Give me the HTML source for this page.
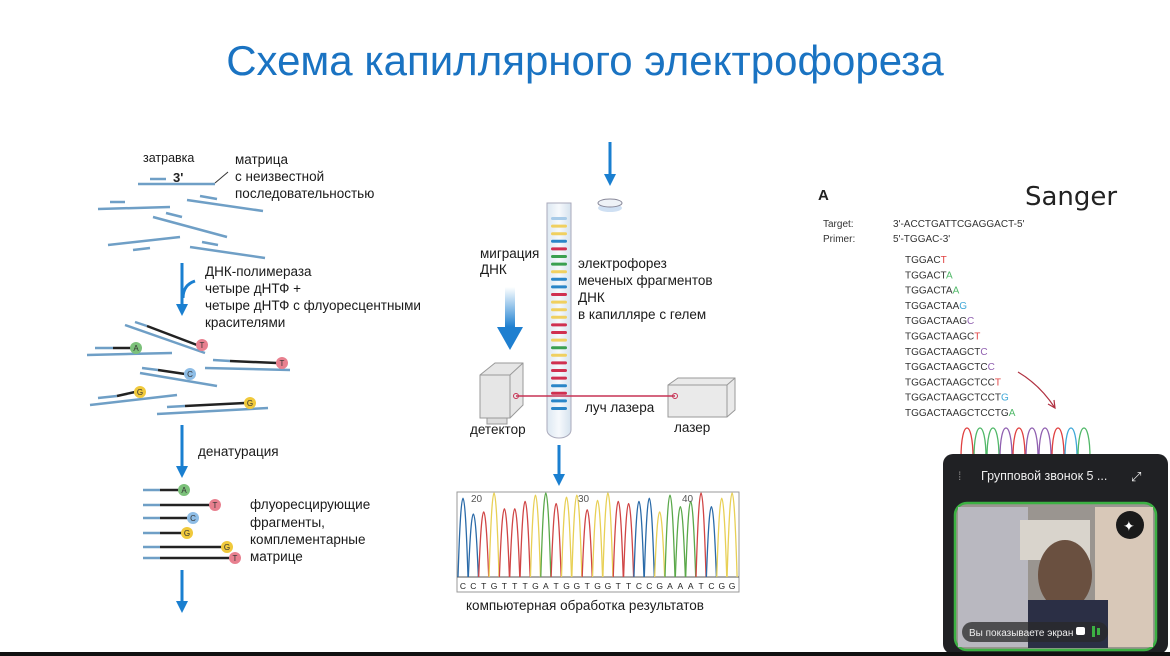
<!DOCTYPE html>
<html><head><meta charset="utf-8"><style>
html,body{margin:0;padding:0;background:#fff;}
svg{display:block;font-family:"Liberation Sans",sans-serif;}
.t{font-size:13.5px;fill:#1a1a1a;}
</style></head><body>
<svg id="s" width="1170" height="656" viewBox="0 0 1170 656" xmlns="http://www.w3.org/2000/svg">
<defs>
<linearGradient id="ga" x1="0" y1="0" x2="0" y2="1"><stop offset="0" stop-color="#2a8ad8" stop-opacity="0"/><stop offset="1" stop-color="#1e7fd0"/></linearGradient>
<linearGradient id="cap" x1="0" y1="0" x2="1" y2="0"><stop offset="0" stop-color="#dde8f2"/><stop offset="0.5" stop-color="#f6f9fc"/><stop offset="1" stop-color="#d5e2ee"/></linearGradient>
<marker id="ah" viewBox="0 0 10 10" refX="5" refY="5" markerWidth="4" markerHeight="4" orient="auto"><path d="M0,0 L10,5 L0,10 z" fill="#1a7fd0"/></marker>
</defs>
<text x="585" y="75" text-anchor="middle" font-size="42" fill="#1a73c2">Схема капиллярного электрофореза</text>

<g stroke="#6f9fc6" stroke-width="2.5" fill="none">
<line x1="150" y1="179" x2="166" y2="179"/><line x1="138" y1="184" x2="215" y2="184"/>
<line x1="110" y1="202" x2="125" y2="202"/><line x1="98" y1="209" x2="170" y2="207"/>
<line x1="187" y1="200" x2="263" y2="211"/><line x1="200" y1="196" x2="217" y2="199"/>
<line x1="153" y1="217" x2="227" y2="237"/><line x1="166" y1="213" x2="182" y2="217"/>
<line x1="108" y1="245" x2="180" y2="237"/><line x1="133" y1="250" x2="150" y2="248"/>
<line x1="190" y1="247" x2="265" y2="258"/><line x1="202" y1="242" x2="218" y2="245"/>
</g>
<line x1="215" y1="183" x2="228" y2="172" stroke="#333" stroke-width="1"/>
<text x="143" y="162" font-size="12.5" fill="#1a1a1a">затравка</text>
<text x="173" y="182" font-size="13" font-weight="bold" fill="#222">3'</text>
<text class="t" x="235" y="164">матрица</text>
<text class="t" x="235" y="181">с неизвестной</text>
<text class="t" x="235" y="198">последовательностью</text>

<g stroke="#1a7fd0" stroke-width="3" fill="none">
<line x1="182" y1="263" x2="182" y2="310" marker-end="url(#ah)"/>
<path d="M195,281 Q183,285 183,298"/>
<line x1="182" y1="425" x2="182" y2="472" marker-end="url(#ah)"/>
<line x1="182" y1="570" x2="182" y2="607" marker-end="url(#ah)"/>
<line x1="610" y1="142" x2="610" y2="180" marker-end="url(#ah)"/>
<line x1="559" y1="445" x2="559" y2="480" marker-end="url(#ah)"/>
</g>
<text class="t" x="205" y="276">ДНК-полимераза</text>
<text class="t" x="205" y="293">четыре дНТФ +</text>
<text class="t" x="205" y="310">четыре дНТФ с флуоресцентными</text>
<text class="t" x="205" y="327">красителями</text>
<text class="t" x="198" y="456">денатурация</text>
<text class="t" x="250" y="509">флуоресцирующие</text>
<text class="t" x="250" y="527">фрагменты,</text>
<text class="t" x="250" y="544">комплементарные</text>
<text class="t" x="250" y="561">матрице</text>

<g id="frags" stroke-width="2.5" fill="none"></g>

<ellipse cx="610" cy="208" rx="12" ry="4" fill="#cfe0f3"/>
<ellipse cx="610" cy="203" rx="12" ry="4" fill="#eef2f7" stroke="#889" stroke-width="1"/>
<path d="M547,203 H571 V430 A12,8 0 0 1 547,430 Z" fill="url(#cap)" stroke="#aab" stroke-width="1"/>
<g id="bands"></g>
<text class="t" x="480" y="258">миграция</text>
<text class="t" x="480" y="274">ДНК</text>
<rect x="505" y="287" width="10" height="40" fill="url(#ga)"/>
<path d="M497,327 L523,327 L510,350 Z" fill="#1e7fd0"/>
<text class="t" x="578" y="268">электрофорез</text>
<text class="t" x="578" y="285">меченых фрагментов</text>
<text class="t" x="578" y="302">ДНК</text>
<text class="t" x="578" y="319">в капилляре с гелем</text>
<path d="M480,375 L495,363 L523,363 L523,405 L510,418 L480,418 Z" fill="#e6e6e6" stroke="#999"/>
<path d="M480,375 L510,375 L523,363 M510,375 V418" fill="none" stroke="#999"/>
<rect x="487" y="418" width="20" height="6" fill="#ddd" stroke="#999"/>
<path d="M668,385 L678,378 L735,378 L735,410 L727,417 L668,417 Z" fill="#eaeaea" stroke="#999"/>
<path d="M668,385 L727,385 L735,378 M727,385 V417" fill="none" stroke="#999"/>
<line x1="516" y1="396" x2="675" y2="396" stroke="#c73355" stroke-width="1.5"/>
<circle cx="516" cy="396" r="2.5" fill="none" stroke="#c73355"/><circle cx="675" cy="396" r="2.5" fill="none" stroke="#c73355"/>
<text class="t" x="585" y="412">луч лазера</text>
<text class="t" x="470" y="434">детектор</text>
<text class="t" x="674" y="432">лазер</text>
<rect x="457" y="492" width="282" height="100" fill="#fff" stroke="#999"/>
<line x1="457" y1="577" x2="739" y2="577" stroke="#555"/>
<g id="chrom" fill="none" stroke-width="1.3"></g>
<text x="471" y="502" font-size="10" fill="#555">20</text><text x="578" y="502" font-size="10" fill="#555">30</text><text x="682" y="502" font-size="10" fill="#555">40</text>
<text class="t" x="466" y="610">компьютерная обработка результатов</text>

<text x="818" y="200" font-size="15" font-weight="bold" fill="#222">A</text>
<text x="1025" y="205" font-size="26" fill="#222" font-family="DejaVu Sans,sans-serif">Sanger</text>
<g font-size="10" fill="#333"><text x="823" y="227">Target:</text><text x="823" y="242">Primer:</text>
<text x="893" y="227">3'-ACCTGATTCGAGGACT-5'</text><text x="893" y="242">5'-TGGAC-3'</text></g>
<g id="seq" font-size="10" fill="#333"></g>
<path d="M1018,372 Q1040,385 1055,408" stroke="#b03040" fill="none" stroke-width="1.2"/>
<path d="M1048,404 L1055,408 L1054,400" stroke="#b03040" fill="none" stroke-width="1.2"/>
<g id="arch" fill="none" stroke-width="1.3"></g>

<rect x="943" y="454" width="225" height="200" rx="10" fill="#202124"/>
<text x="958" y="480" font-size="12" fill="#888">⁞</text>
<text x="981" y="480" font-size="12.5" fill="#eee">Групповой звонок 5 ...</text>
<text x="1131" y="481" font-size="13" fill="#eee">⤢</text>
<rect x="955" y="503" width="201" height="147" rx="12" fill="#9a9590" stroke="#3cb043" stroke-width="2.5"/>
<rect x="958" y="507" width="70" height="140" fill="#b9b8c0"/>
<rect x="1095" y="507" width="58" height="140" fill="#d8c8b8"/>
<rect x="1020" y="520" width="70" height="40" fill="#d9d4cc"/>
<ellipse cx="1065" cy="575" rx="27" ry="35" fill="#6a5040"/>
<rect x="1028" y="600" width="80" height="48" fill="#2b2f45"/>
<circle cx="1130" cy="525" r="14" fill="#1a1a1a"/><text x="1123" y="531" font-size="14" fill="#fff">✦</text>
<rect x="962" y="622" width="146" height="20" rx="10" fill="#2a2a2a" opacity="0.75"/>
<text x="969" y="636" font-size="10" fill="#eee">Вы показываете экран</text>
<rect x="1076" y="627" width="9" height="8" rx="2" fill="#fff"/><rect x="1092" y="626" width="3" height="11" fill="#3cb043"/><rect x="1097" y="628" width="3" height="7" fill="#3cb043"/>
<rect x="0" y="652" width="1170" height="4" fill="#111"/>
<script>
var NS="http://www.w3.org/2000/svg";
function el(p,t,a,tx){var e=document.createElementNS(NS,t);for(var k in a)e.setAttribute(k,a[k]);if(tx)e.textContent=tx;document.getElementById(p).appendChild(e);return e;}
var col={A:"#7cc17a",T:"#e8808f",C:"#8ebde6",G:"#f0c93c"};
var F=[[87,355,172,353,95,348,113,348,136,348,"A"],[125,325,205,353,135,322,147,326,202,345,"T"],[205,368,290,370,213,360,230,361,282,363,"T"],[140,373,217,386,142,368,158,370,190,374,"C"],[90,405,177,395,98,398,117,396,140,392,"G"],[157,414,268,408,167,407,185,406,250,403,"G"]];
F.forEach(function(f){el("frags","line",{x1:f[0],y1:f[1],x2:f[2],y2:f[3],stroke:"#6f9fc6"});el("frags","line",{x1:f[4],y1:f[5],x2:f[6],y2:f[7],stroke:"#6f9fc6"});el("frags","line",{x1:f[6],y1:f[7],x2:f[8]-5,y2:f[9],stroke:"#222"});el("frags","circle",{cx:f[8],cy:f[9],r:6,fill:col[f[10]],stroke:"none"});el("frags","text",{x:f[8],y:f[9]+3,"font-size":8,"text-anchor":"middle",fill:"#333",stroke:"none"},f[10]);});
var L=[[490,184,"A"],[505,215,"T"],[518,193,"C"],[533,187,"G"],[547,227,"G"],[558,235,"T"]];
L.forEach(function(f){el("frags","line",{x1:143,y1:f[0],x2:160,y2:f[0],stroke:"#6f9fc6"});el("frags","line",{x1:160,y1:f[0],x2:f[1]-5,y2:f[0],stroke:"#222"});el("frags","circle",{cx:f[1],cy:f[0],r:6,fill:col[f[2]],stroke:"none"});el("frags","text",{x:f[1],y:f[0]+3,"font-size":8,"text-anchor":"middle",fill:"#333",stroke:"none"},f[2]);});
var bc={b:"#2a86c8",y:"#f0d060",r:"#d03050",g:"#3aa050",l:"#a8cbe8"};
"lyybrggybbryyyrrygyrrrbrbb".split("").forEach(function(c,i){el("bands","rect",{x:551,y:217+i*7.6,width:16,height:3,rx:1.5,fill:bc[c]});});
var seq="CCTGTTTGATGGTGGTTCCGAAATCGG",pc={C:"#2a6aa8",T:"#d04545",G:"#e8d055",A:"#5aa84a"};
var H=[75,60,62,80,65,65,72,78,80,70,76,78,64,73,80,72,70,72,75,62,78,67,72,80,67,75,80];
for(var i=0;i<27;i++){var x=463+i*10.35,h=H[i];el("chrom","path",{d:"M"+(x-5)+",577 Q"+x+","+(577-h*2.1)+" "+(x+5)+",577",stroke:pc[seq[i]]});el("chrom","text",{x:x,y:589,"font-size":8.5,"text-anchor":"middle",fill:"#222",stroke:"none"},seq[i]);}
var S=["TGGAC","T","TGGACT","A","TGGACTA","A","TGGACTAA","G","TGGACTAAG","C","TGGACTAAGC","T","TGGACTAAGCT","C","TGGACTAAGCTC","C","TGGACTAAGCTCC","T","TGGACTAAGCTCCT","G","TGGACTAAGCTCCTG","A"];
var sc={T:"#e04040",A:"#50b868",G:"#40a8d8",C:"#9060b0"};
for(var j=0;j<11;j++){var t=el("seq","text",{x:905,y:263+j*15.3});var a=document.createElementNS(NS,"tspan");a.textContent=S[2*j];t.appendChild(a);var b=document.createElementNS(NS,"tspan");b.setAttribute("fill",sc[S[2*j+1]]);b.textContent=S[2*j+1];t.appendChild(b);}
var ac=["#e04040","#50b868","#50b868","#9060b0","#e04040","#9060b0","#9060b0","#e04040","#40a8d8","#50b868"];
for(var k=0;k<10;k++){var x0=961+k*13;el("arch","path",{d:"M"+x0+",458 C"+x0+",418 "+(x0+12)+",418 "+(x0+12)+",458",stroke:ac[k]});}
</script>
</svg>
</body></html>
